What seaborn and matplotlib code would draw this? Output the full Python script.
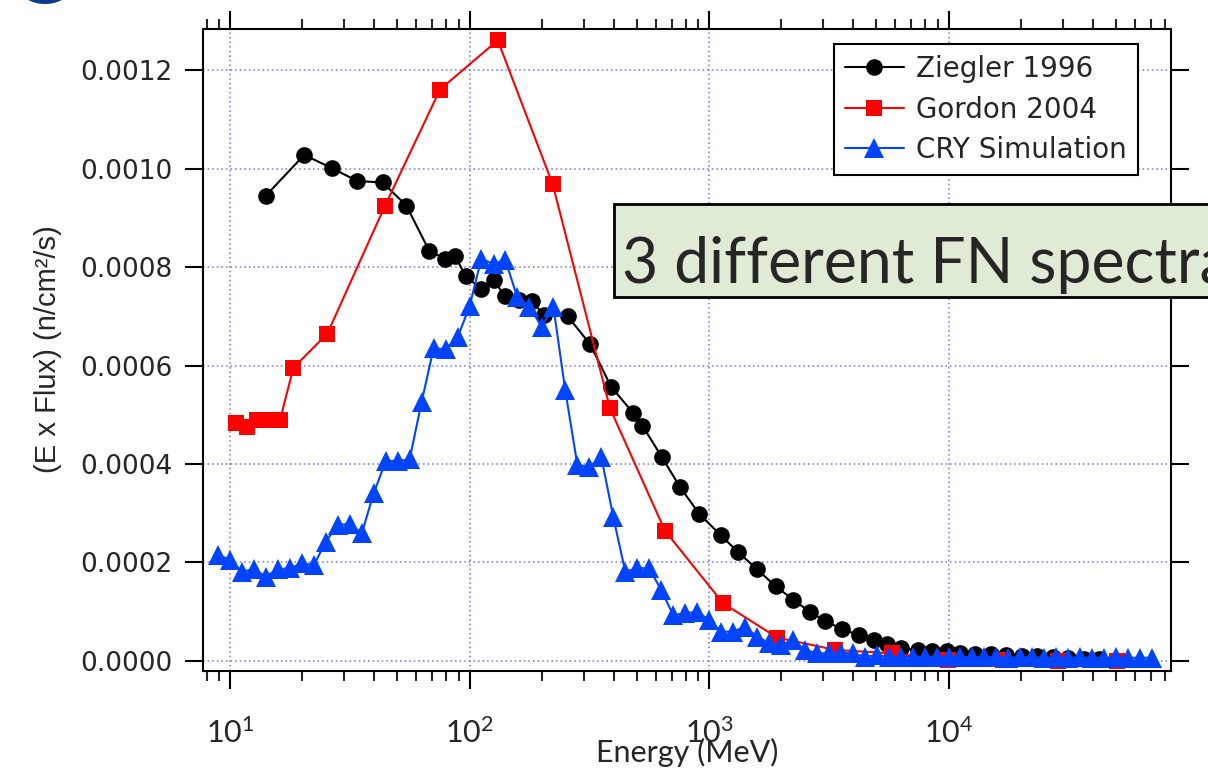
import math
import seaborn as sns
import matplotlib.pyplot as plt
from matplotlib.patches import Rectangle, Ellipse
from matplotlib.ticker import LogLocator, FixedLocator, FuncFormatter, NullFormatter

sns.set_style('ticks')
plt.rcParams['font.family'] = ['DejaVu Sans']
plt.rcParams['mathtext.fontset'] = 'custom'
plt.rcParams['mathtext.rm'] = 'Lato'
plt.rcParams['mathtext.it'] = 'Lato:italic'
plt.rcParams['mathtext.bf'] = 'Lato:bold'

# Ziegler 1996
ziegler_e = [14.1, 20.4, 26.7, 34.0, 43.4, 54.5, 67.9, 79.0, 87.0, 96.4,
             112, 126, 141, 161, 183, 204, 257, 319, 390, 483,
             527, 635, 757, 912, 1119, 1321, 1586, 1899, 2249, 2641,
             3050, 3592, 4243, 4887, 5552, 6333, 7482, 8511, 9829, 11170,
             12900, 15070, 17380, 20270, 23420, 27320, 31540, 36800, 42500]
ziegler_f = [0.000945, 0.001028, 0.001001, 0.000975, 0.000972, 0.000925, 0.000833, 0.000817, 0.000822, 0.000782,
             0.000755, 0.000773, 0.000741, 0.000733, 0.000731, 0.000702, 0.000700, 0.000643, 0.000557, 0.000503,
             0.000478, 0.000414, 0.000353, 0.000298, 0.000255, 0.000221, 0.000186, 0.000151, 0.000124, 0.000099,
             0.000081, 0.000064, 0.000052, 0.000043, 0.000033, 0.000025, 0.000022, 0.000019, 0.000019, 0.000016,
             0.000014, 0.000013, 0.000012, 0.000010, 0.000009, 0.000007, 0.000006, 0.000004, 0.000003]

# Gordon 2004
gordon_e = [10.56, 11.74, 12.93, 14.23, 16.17, 18.38, 25.5, 44.3, 75.3, 131.2,
            222.6, 386, 655, 1144, 1923, 3357, 5795, 9976, 16890, 28640, 50500]
gordon_f = [0.000484, 0.000475, 0.000489, 0.000489, 0.000489, 0.000595, 0.000665, 0.000924, 0.001161, 0.001261,
            0.000968, 0.000513, 0.000264, 0.000117, 0.000047, 0.000022, 0.000015, 0.000001, 0.0000005, 0.0000003, 0.0000002]

# CRY Simulation
cry_e = [8.91, 10.0, 11.2, 12.6, 14.1, 15.8, 17.8, 20.0, 22.4, 25.1,
         28.2, 31.6, 35.5, 39.8, 44.7, 50.1, 56.2, 63.1, 70.8, 79.4,
         89.1, 100, 112, 126, 141, 158, 178, 200, 224, 251,
         282, 316, 355, 398, 447, 501, 562, 631, 708, 794,
         891, 1000, 1122, 1259, 1413, 1585, 1778, 1995, 2239, 2512,
         2818, 3162, 3548, 3981, 4467, 5012, 5623, 6310, 7079, 7943,
         8913, 10000, 11220, 12590, 14130, 15850, 17780, 19950, 22390, 25120,
         28180, 31620, 35480, 39810, 44670, 50120, 56230, 63100, 70790]
cry_f = [0.000215, 0.000205, 0.000181, 0.000186, 0.000171, 0.000186, 0.000188, 0.000198, 0.000194, 0.000242,
         0.000276, 0.000278, 0.000259, 0.000340, 0.000406, 0.000406, 0.000409, 0.000526, 0.000635, 0.000633,
         0.000657, 0.000720, 0.000817, 0.000806, 0.000815, 0.000740, 0.000719, 0.000679, 0.000719, 0.000550,
         0.000398, 0.000394, 0.000414, 0.000293, 0.000181, 0.000188, 0.000188, 0.000144, 0.000093, 0.000096,
         0.000100, 0.000083, 0.000059, 0.000059, 0.000069, 0.000049, 0.000036, 0.000032, 0.000042, 0.000022,
         0.000015, 0.000015, 0.000016, 0.000015, 0.000008, 0.000011, 0.000008, 0.000008, 0.000007, 0.000008,
         0.000008, 0.000007, 0.000008, 0.000007, 0.000008, 0.000007, 0.000006, 0.000007, 0.000007, 0.000006,
         0.000007, 0.000006, 0.000007, 0.000006, 0.000006, 0.000007, 0.000006, 0.000006, 0.000006]

y_ticks = [0.0, 0.0002, 0.0004, 0.0006, 0.0008, 0.0010, 0.0012]
x_ticks = [10, 100, 1000, 10000]

W, H = 1208, 770
fig = plt.figure(figsize=(W / 100, H / 100), dpi=100)
ax = fig.add_axes([202.7 / W, 1 - 670.7 / H, (1171 - 202.7) / W, (670.7 - 28.5) / H])
ax.set_xscale('log')

sns.lineplot(x=ziegler_e, y=ziegler_f, ax=ax, color='black', marker='o', markersize=12,
             markeredgewidth=0, linewidth=1.5, label='Ziegler 1996', estimator=None, sort=False)
sns.lineplot(x=gordon_e, y=gordon_f, ax=ax, color='#FF0000', marker='s', markersize=12,
             markeredgewidth=0, linewidth=1.5, label='Gordon 2004', estimator=None, sort=False)
sns.lineplot(x=cry_e, y=cry_f, ax=ax, color='#0044FF', marker='^', markersize=15,
             markeredgewidth=0, linewidth=1.5, label='CRY Simulation', estimator=None, sort=False)

ax.set_xlim(7.69, 84900)
ax.set_ylim(-0.0000203, 0.001285)

ax.xaxis.set_major_locator(FixedLocator(x_ticks))
ax.xaxis.set_minor_locator(LogLocator(base=10, subs=range(2, 10), numticks=20))
ax.xaxis.set_minor_formatter(NullFormatter())
ax.xaxis.set_major_formatter(FuncFormatter(lambda v, p: r'$\mathrm{10^{%d}}$' % round(math.log10(v))))
ax.yaxis.set_major_locator(FixedLocator(y_ticks))
ax.yaxis.set_major_formatter(FuncFormatter(lambda v, p: '%.4f' % v))

ax.grid(True, which='major', color='#7070ff', linestyle=(0, (1, 2)), linewidth=1.1)
ax.set_axisbelow(True)

for s in ax.spines.values():
    s.set_visible(True)
    s.set_linewidth(1.5)
    s.set_color('black')

ax.tick_params(axis='both', which='major', direction='out', length=13, width=1.5,
               top=True, right=True, color='black')
ax.tick_params(axis='x', which='minor', direction='out', length=7, width=1.5, top=True, bottom=True)
ax.tick_params(axis='y', which='major', labelsize=19, pad=8.5)
ax.tick_params(axis='x', which='major', labelsize=22, pad=21)

ax.set_xlabel('Energy (MeV)', fontsize=22, family='Lato', va='baseline')
ax.xaxis.set_label_coords(0.5, (670.7 - 762) / (670.7 - 28.5))
ax.set_ylabel('(E x Flux) (n/cm²/s)', fontsize=21, family='Liberation Sans', va='center')
ax.yaxis.set_label_coords((48 - 202.7) / (1171 - 202.7), 0.5)

leg = ax.legend(loc='upper right', bbox_to_anchor=(1138 / W, 1 - 44 / H), bbox_transform=fig.transFigure,
                borderaxespad=0, frameon=True, fancybox=False, edgecolor='black', framealpha=1,
                fontsize=20, handlelength=2.1, labelspacing=0.45, handletextpad=0.45, borderpad=0.4)
leg.get_frame().set_linewidth(1.5)

# annotation box running off the right edge
fig.patches.append(Rectangle((614 / W, 1 - 297 / H), (1240 - 614) / W, 93 / H, transform=fig.transFigure,
                             facecolor='#E0EBD5', edgecolor='black', linewidth=2, zorder=5))
fig.text(622 / W, 1 - 283 / H, '3 different FN spectra', fontsize=45, family='Lato', va='baseline', zorder=6)

# partial logo at top-left corner
fig.patches.append(Ellipse((45 / W, 1 + 9 / H), 46 / W, 26 / H, transform=fig.transFigure,
                           facecolor='#0D3B8C', edgecolor='none'))

fig.savefig('out.png', dpi=100)
